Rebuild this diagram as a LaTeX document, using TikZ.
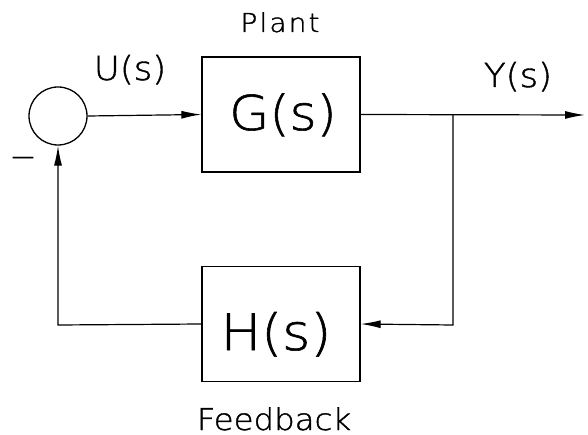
\documentclass[tikz,border=0pt]{standalone}
\usepackage{fontspec}
\setmainfont{DejaVu Sans ExtraLight}[FakeStretch=1.08,FakeBold=1.2]
\usetikzlibrary{arrows.meta}
\begin{document}
\begin{tikzpicture}[x=1pt,y=-1pt,
  blk/.style={draw,line width=1.3pt,minimum width=158pt,minimum height=115pt,inner sep=0pt},
  sumc/.style={draw,circle,line width=1.3pt,minimum size=58pt,inner sep=0pt},
  wire/.style={line width=1.2pt},
  arr/.style={wire,-{Latex[length=20pt,width=8pt]}},
  lbl/.style={anchor=base,inner sep=0pt}]
\useasboundingbox (0,0) rectangle (588,435);
\node[sumc] (sum) at (58,116) {};
\node[blk] (G) at (281,114.5) {};
\node[blk] (H) at (281,324) {};
\node[lbl,font=\fontsize{48}{48}\selectfont] (Gt) at (283,130) {G(s)};
\node[lbl,font=\fontsize{50}{50}\selectfont] (Ht) at (276,350) {H(s)};
\node[lbl,font=\fontsize{26}{26}\selectfont\addfontfeatures{LetterSpace=8}] (plant) at (280,32) {Plant};
\node[lbl,font=\fontsize{30}{30}\selectfont] (fb) at (274,430) {Feedback};
\node[lbl,font=\fontsize{33}{33}\selectfont] (U) at (130,80) {U(s)};
\node[lbl,font=\fontsize{33}{33}\selectfont] (Y) at (518,87) {Y(s)};
\node[lbl,font=\fontsize{30}{30}\selectfont] (minus) at (23,167) {−};
\coordinate (out) at (585,115);
\coordinate (br) at (453,115);
\coordinate (brd) at (453,325);
\coordinate (lft) at (58,325);
\draw[arr] (sum.east) -- (G.west);
\draw[arr] (G.east) -- (out);
\draw[arr] (br) -- (brd) -- (H.east);
\draw[arr] (H.west) -- (lft) -- (sum.south);
\end{tikzpicture}
\end{document}
